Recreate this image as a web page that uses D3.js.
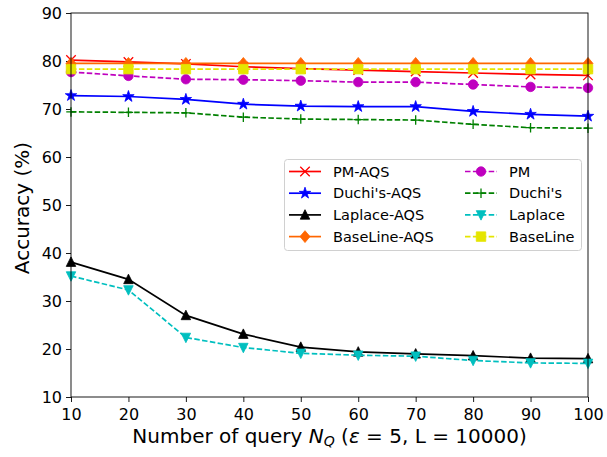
<!DOCTYPE html>
<html>
<head>
<meta charset="utf-8">
<script src="https://cdn.jsdelivr.net/npm/d3@7"></script>
<style>
  body { margin: 0; background: #fff; }
  text { font-family: "DejaVu Sans", sans-serif; }
</style>
</head>
<body>
<script>
var svgWidth = 607;
var svgHeight = 457;

var margin = { top: 13, right: 19, bottom: 60, left: 71 };
var width = svgWidth - margin.left - margin.right;
var height = svgHeight - margin.top - margin.bottom;

// data
var queries = [10, 20, 30, 40, 50, 60, 70, 80, 90, 100];
var pmAqs = [80.2, 79.8, 79.4, 78.8, 78.4, 78.1, 77.8, 77.5, 77.2, 77.0];
var duchiAqs = [72.8, 72.6, 72.0, 71.0, 70.6, 70.5, 70.5, 69.5, 68.9, 68.5];
var laplaceAqs = [38.1, 34.5, 27.0, 23.1, 20.4, 19.4, 19.0, 18.6, 18.1, 18.0];
var baselineAqs = [79.5, 79.5, 79.5, 79.5, 79.5, 79.5, 79.5, 79.5, 79.5, 79.5];
var pm = [77.7, 76.9, 76.2, 76.1, 75.9, 75.6, 75.6, 75.1, 74.6, 74.4];
var duchi = [69.4, 69.3, 69.2, 68.3, 67.9, 67.8, 67.7, 66.8, 66.1, 66.0];
var laplace = [35.2, 32.3, 22.4, 20.3, 19.1, 18.7, 18.5, 17.6, 17.1, 17.0];
var baseline = [78.3, 78.3, 78.3, 78.3, 78.3, 78.3, 78.3, 78.3, 78.3, 78.3];

var xTicks = [10, 20, 30, 40, 50, 60, 70, 80, 90, 100];
var yTicks = [10, 20, 30, 40, 50, 60, 70, 80, 90];

var series = [
  { name: "PM-AQS", values: pmAqs, color: "#ff0000", marker: "x", dashed: false },
  { name: "Duchi's-AQS", values: duchiAqs, color: "#0000ff", marker: "star", dashed: false },
  { name: "Laplace-AQS", values: laplaceAqs, color: "#000000", marker: "triUp", dashed: false },
  { name: "BaseLine-AQS", values: baselineAqs, color: "#ff6600", marker: "diamond", dashed: false },
  { name: "PM", values: pm, color: "#bf00bf", marker: "circle", dashed: true },
  { name: "Duchi's", values: duchi, color: "#008000", marker: "plus", dashed: true },
  { name: "Laplace", values: laplace, color: "#00bfbf", marker: "triDown", dashed: true },
  { name: "BaseLine", values: baseline, color: "#e5e500", marker: "square", dashed: true }
];

var svg = d3.select("body")
  .append("svg")
  .attr("width", svgWidth)
  .attr("height", svgHeight);

var plot = svg.append("g")
  .attr("transform", `translate(${margin.left}, ${margin.top})`);

var xScale = d3.scaleLinear().domain([10, 100]).range([0, width]);
var yScale = d3.scaleLinear().domain([10, 90]).range([height, 0]);

var xAxis = d3.axisBottom(xScale).tickValues(xTicks).tickSize(5).tickPadding(7);
var yAxis = d3.axisLeft(yScale).tickValues(yTicks).tickSize(5).tickPadding(4);

var gx = plot.append("g")
  .attr("transform", `translate(0, ${height})`)
  .call(xAxis);
var gy = plot.append("g").call(yAxis);

[gx, gy].forEach(function(g) {
  g.select(".domain").remove();
  g.selectAll("line").attr("stroke", "#000").attr("stroke-width", 0.9);
  g.selectAll("text")
    .style("font-size", "16px")
    .style("font-family", "DejaVu Sans")
    .attr("fill", "#000");
});

// marker shapes
function markerPath(type, s) {
  var h = s / 2;
  if (type === "x") return `M${-h},${-h}L${h},${h}M${-h},${h}L${h},${-h}`;
  if (type === "plus") return `M${-h},0L${h},0M0,${-h}L0,${h}`;
  if (type === "star") return d3.symbol(d3.symbolStar, s * s * 0.45)();
  if (type === "triUp") return `M0,${-h * 1.1}L${h},${h * 0.9}L${-h},${h * 0.9}Z`;
  if (type === "triDown") return `M0,${h * 1.1}L${h},${-h * 0.9}L${-h},${-h * 0.9}Z`;
  if (type === "diamond") return `M0,${-h * 1.25}L${h * 1.05},0L0,${h * 1.25}L${-h * 1.05},0Z`;
  if (type === "square") return `M${-h},${-h}L${h},${-h}L${h},${h}L${-h},${h}Z`;
  if (type === "circle") return d3.symbol(d3.symbolCircle, Math.PI * h * h)();
  return "";
}
var lineMarker = { x: true, plus: true };

var line = d3.line()
  .x(function(d, i) { return xScale(queries[i]); })
  .y(function(d) { return yScale(d); });

var lines = plot.append("g");

series.forEach(function(s) {
  var g = lines.append("g");
  g.append("path")
    .datum(s.values)
    .attr("d", line)
    .attr("fill", "none")
    .attr("stroke", s.color)
    .attr("stroke-width", 1.7)
    .attr("stroke-dasharray", s.dashed ? "5.5,2.4" : null);
  g.selectAll("path.mk")
    .data(s.values)
    .enter()
    .append("path")
    .attr("class", "mk")
    .attr("transform", function(d, i) { return `translate(${xScale(queries[i])}, ${yScale(d)})`; })
    .attr("d", markerPath(s.marker, 9.5))
    .attr("fill", lineMarker[s.marker] ? "none" : s.color)
    .attr("stroke", s.color)
    .attr("stroke-width", lineMarker[s.marker] ? 1.3 : 0.8);
});

// frame
plot.append("rect")
  .attr("width", width)
  .attr("height", height)
  .attr("fill", "none")
  .attr("stroke", "#000")
  .attr("stroke-width", 0.9);

// legend
var legend = svg.append("g");
legend.append("rect")
  .attr("x", 284.5).attr("y", 159.5)
  .attr("width", 297).attr("height", 91)
  .attr("rx", 3)
  .attr("fill", "#fff").attr("fill-opacity", 0.8)
  .attr("stroke", "#d0d0d0");

series.forEach(function(s, i) {
  var col = Math.floor(i / 4);
  var row = i % 4;
  var x0 = col === 0 ? 289 : 465;
  var y0 = 171.5 + row * 21.7;
  var g = legend.append("g");
  g.append("line")
    .attr("x1", x0).attr("x2", x0 + 32)
    .attr("y1", y0).attr("y2", y0)
    .attr("stroke", s.color)
    .attr("stroke-width", 1.7)
    .attr("stroke-dasharray", s.dashed ? "5.5,2.4" : null);
  g.append("path")
    .attr("transform", `translate(${x0 + 16}, ${y0})`)
    .attr("d", markerPath(s.marker, 9.5))
    .attr("fill", lineMarker[s.marker] ? "none" : s.color)
    .attr("stroke", s.color)
    .attr("stroke-width", lineMarker[s.marker] ? 1.3 : 0.8);
  g.append("text")
    .attr("x", x0 + 44)
    .attr("y", y0 + 5.2)
    .style("font-size", "14.5px")
    .text(s.name);
});

// axis labels
svg.append("text")
  .attr("transform", "rotate(-90)")
  .attr("x", -(margin.top + height / 2) - 3)
  .attr("y", 29)
  .attr("text-anchor", "middle")
  .style("font-size", "20px")
  .text("Accuracy (%)");

var xl = svg.append("text")
  .attr("x", margin.left + width / 2)
  .attr("y", 443)
  .attr("text-anchor", "middle")
  .style("font-size", "20px");
xl.append("tspan").text("Number of query ");
xl.append("tspan").style("font-style", "italic").text("N");
xl.append("tspan").style("font-style", "italic").style("font-size", "14px").attr("dy", 3).text("Q");
xl.append("tspan").attr("dy", -3).text(" (");
xl.append("tspan").style("font-style", "italic").text("ε");
xl.append("tspan").text(" = 5, L = 10000)");
</script>
</body>
</html>
